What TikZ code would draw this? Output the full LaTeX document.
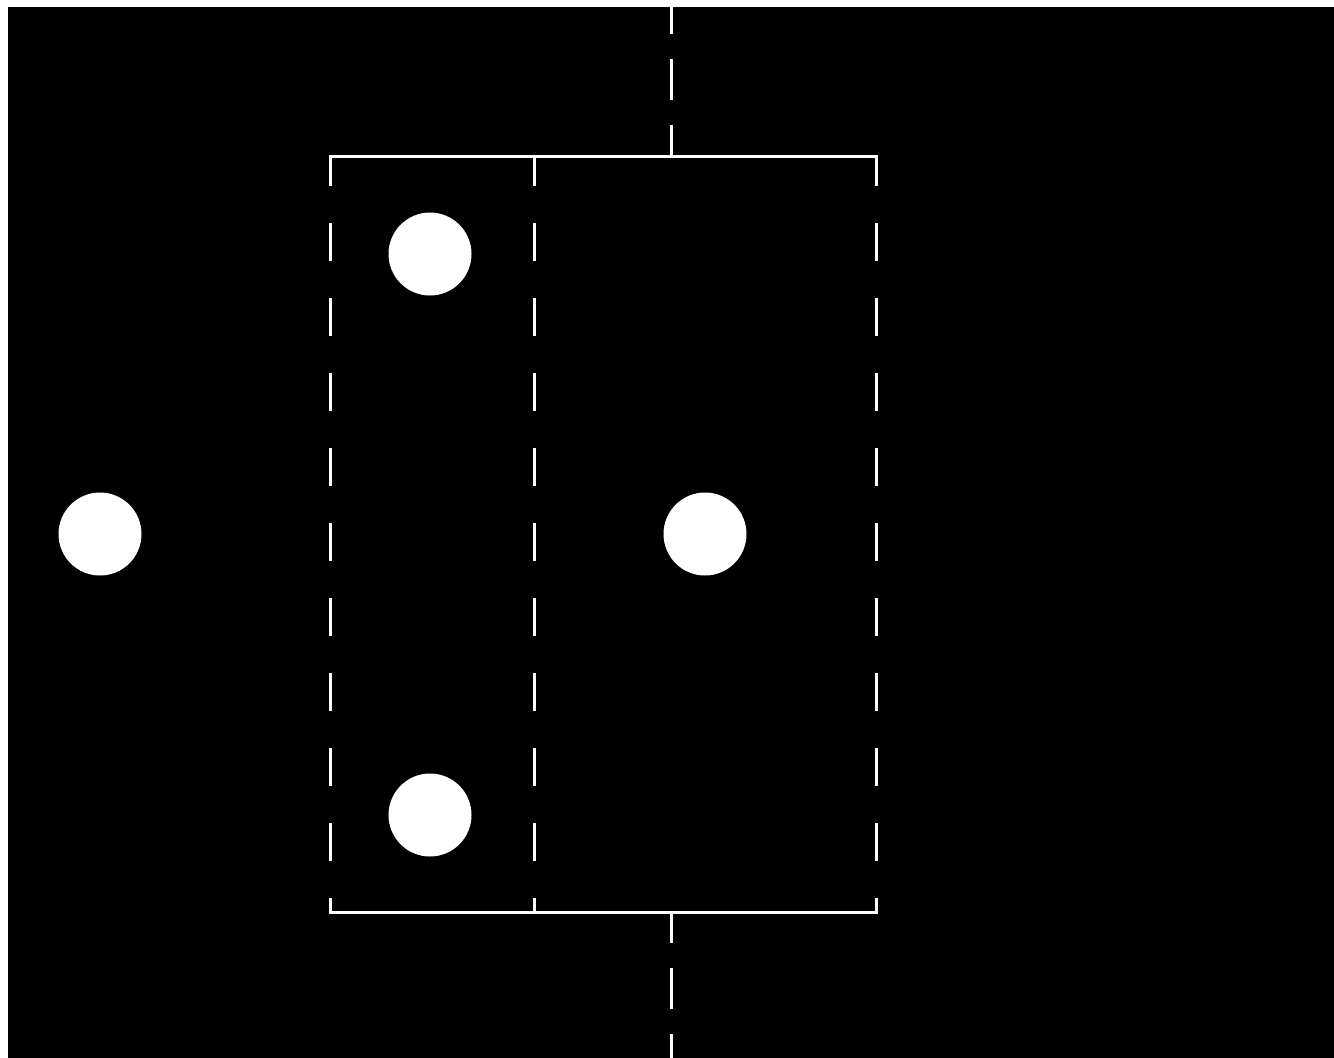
\documentclass[tikz,border=0pt]{standalone}
\usetikzlibrary{positioning}
\tikzstyle{dot} = [
  circle,
  minimum size=83pt,
  inner sep=0,
  fill=white
]
\tikzstyle{wall} = [
  draw=white,
  line width=3pt
]
\tikzstyle{side} = [
  wall,
  dash pattern=on 38pt off 37pt,
  dash phase=8pt
]
\tikzstyle{stub} = [
  wall,
  dash pattern=on 41pt off 25pt,
  dash phase=10pt
]

\begin{document}
\begin{tikzpicture}[x=1pt, y=-1pt]

    % page and black field
    \fill[white] (0,0) rectangle (1334,1058);
    \fill[black] (8,7) rectangle (1334,1058);
    \useasboundingbox (0,0) rectangle (1334,1058);

    % box corners
    \coordinate (tl) at (330,156);
    \coordinate (tm) at (534,156);
    \coordinate (tr) at (876,156);
    \coordinate (bl) at (330,912);
    \coordinate (bm) at (534,912);
    \coordinate (br) at (876,912);
    \coordinate (top) at (671,156);
    \coordinate (bot) at (671,912);
    \coordinate (topend) at (671,7);
    \coordinate (botend) at (671,1058);

    \node (upper) [dot] at (430,254) {};
    \node (lower) [dot] at (430,815) {};
    \node (outer) [dot] at (100,534) {};
    \node (inner) [dot] at (705,534) {};

    \draw [wall] ([xshift=-1.5pt]tl) -- ([xshift=1.5pt]tr);
    \draw [wall] ([xshift=-1.5pt]bl) -- ([xshift=1.5pt]br);
    \draw [side] (tl) -- (bl);
    \draw [side] (tm) -- (bm);
    \draw [side] (tr) -- (br);
    \draw [stub] (top) -- (topend);
    \draw [stub] (bot) -- (botend);

\end{tikzpicture}
\end{document}
